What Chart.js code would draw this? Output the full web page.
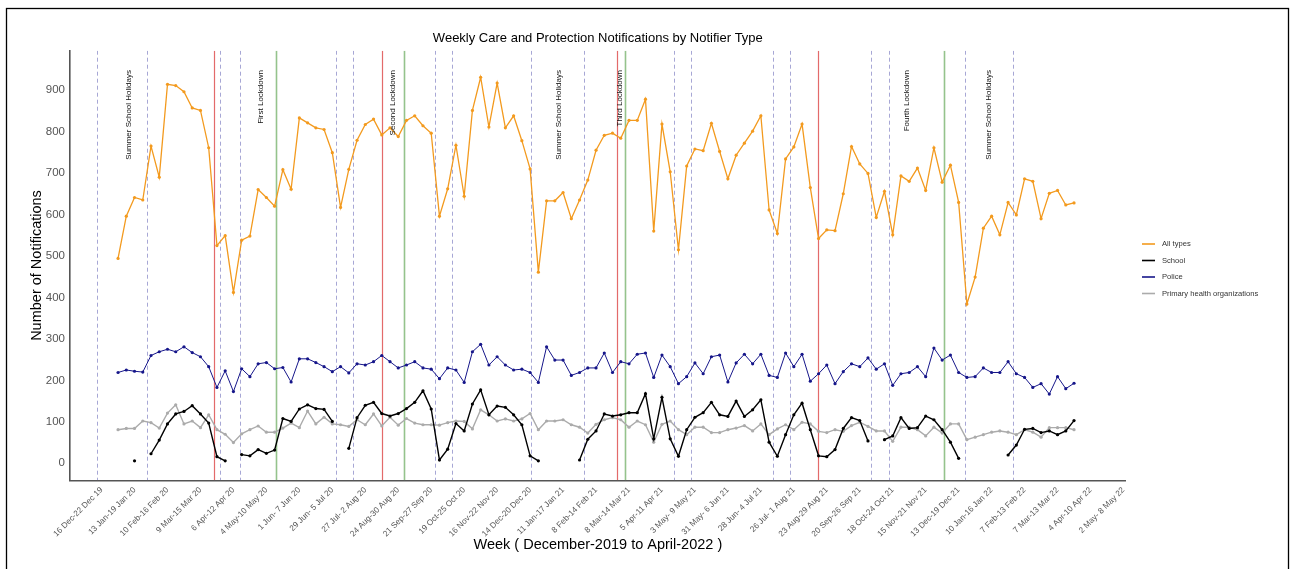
<!DOCTYPE html>
<html>
<head>
<meta charset="utf-8">
<script src="https://cdn.jsdelivr.net/npm/chart.js@4.4.1/dist/chart.umd.min.js"></script>
<style>
  html, body { margin: 0; padding: 0; background: #ffffff; }
  #wrap { width: 1295px; height: 569px; position: relative; }
</style>
</head>
<body>
<div id="wrap"><canvas id="chart" width="1295" height="569"></canvas></div>
<script>
// Weeks are counted from Monday 16 Dec 2019 (week 0); the series start at week 2.
const firstWeek = 2;

const tickLabels = [
  "16 Dec-22 Dec 19", "13 Jan-19 Jan 20", "10 Feb-16 Feb 20", "9 Mar-15 Mar 20",
  "6 Apr-12 Apr 20", "4 May-10 May 20", "1 Jun- 7 Jun 20", "29 Jun- 5 Jul 20",
  "27 Jul- 2 Aug 20", "24 Aug-30 Aug 20", "21 Sep-27 Sep 20", "19 Oct-25 Oct 20",
  "16 Nov-22 Nov 20", "14 Dec-20 Dec 20", "11 Jan-17 Jan 21", "8 Feb-14 Feb 21",
  "8 Mar-14 Mar 21", "5 Apr-11 Apr 21", "3 May- 9 May 21", "31 May- 6 Jun 21",
  "28 Jun- 4 Jul 21", "26 Jul- 1 Aug 21", "23 Aug-29 Aug 21", "20 Sep-26 Sep 21",
  "18 Oct-24 Oct 21", "15 Nov-21 Nov 21", "13 Dec-19 Dec 21", "10 Jan-16 Jan 22",
  "7 Feb-13 Feb 22", "7 Mar-13 Mar 22", "4 Apr-10 Apr 22", "2 May- 8 May 22"
];
const tickStepWeeks = 4;
const yTicks = [0, 100, 200, 300, 400, 500, 600, 700, 800, 900];

const allTypes = [
  494, 596, 641, 635, 765, 690, 914, 911, 896, 857, 851, 761, 525, 549, 412, 538,
  548, 660, 641, 620, 708, 661, 833, 821, 809, 805, 749, 617, 709, 779, 817, 830,
  792, 809, 788, 827, 838, 814, 796, 596, 662, 767, 644, 851, 931, 811, 917, 809,
  838, 778, 710, 461, 633, 633, 653, 590, 635, 683, 755, 791, 796, 784, 827, 827,
  878, 560, 818, 703, 515, 717, 758, 754, 820, 752, 686, 743, 772, 801, 838, 611,
  554, 734, 763, 818, 665, 542, 563, 561, 650, 764, 722, 699, 593, 656, 551, 693,
  680, 712, 658, 761, 678, 719, 629, 384, 449, 567, 596, 551, 629, 599, 686, 680,
  590, 651, 658, 623, 628
];

const school = [
  null, null, 6, null, 23, 56, 95, 119, 125, 139, 119, 97, 16, 6, null, 21,
  18, 33, 24, 32, 108, 101, 131, 141, 132, 130, 101, null, 36, 110, 140, 147,
  120, 114, 120, 132, 147, 175, 131, 8, 34, 96, 78, 143, 177, 117, 138, 135,
  117, 93, 18, 6, null, null, null, null, 8, 58, 78, 119, 114, 117, 122, 122,
  168, 59, 159, 59, 17, 81, 111, 122, 147, 117, 113, 150, 113, 129, 153, 51,
  17, 69, 117, 145, 81, 18, 16, 33, 84, 110, 103, 54, null, 57, 66, 110,
  84, 86, 114, 105, 81, 51, 12, null, null, null, null, null, 20, 44, 82, 84,
  74, 78, 69, 78, 103
];

const police = [
  219, 225, 222, 220, 260, 269, 275, 269, 281, 267, 257, 233, 183, 223, 173, 228,
  209, 240, 243, 228, 231, 196, 252, 252, 243, 233, 221, 233, 218, 240, 237, 245,
  260, 245, 230, 237, 245, 230, 227, 204, 230, 225, 195, 269, 287, 237, 257, 237,
  225, 227, 219, 195, 281, 249, 249, 212, 219, 230, 230, 266, 219, 245, 240, 263,
  266, 207, 261, 233, 192, 209, 242, 216, 257, 261, 196, 242, 263, 240, 263, 212,
  207, 266, 233, 263, 198, 216, 237, 192, 221, 240, 233, 254, 227, 240, 188, 216,
  219, 233, 209, 278, 249, 261, 219, 207, 209, 230, 219, 219, 245, 216, 207, 183,
  192, 167, 209, 180, 193
];

const primaryHealth = [
  81, 84, 84, 102, 98, 85, 121, 141, 95, 102, 86, 117, 81, 70, 50, 71,
  81, 90, 75, 75, 85, 97, 86, 126, 95, 111, 95, 93, 89, 105, 93, 119,
  90, 111, 92, 108, 97, 93, 93, 92, 98, 102, 101, 83, 129, 117, 102, 107,
  102, 107, 120, 81, 102, 102, 105, 93, 87, 73, 94, 105, 110, 105, 87, 102,
  93, 51, 94, 102, 81, 69, 87, 87, 74, 74, 81, 85, 91, 78, 95, 69,
  83, 93, 81, 99, 95, 77, 74, 81, 77, 91, 99, 89, 78, 78, 53, 87,
  87, 81, 66, 87, 73, 95, 95, 57, 63, 69, 75, 78, 75, 69, 81, 75,
  63, 86, 86, 86, 81
];

// School term / holiday boundaries (in weeks)
const termBreaks = [-0.61, 5.53, 14.39, 16.82, 28.40, 30.53, 40.41, 42.51, 52.10,
  58.53, 69.42, 71.48, 81.43, 83.57, 93.40, 95.55, 104.81, 110.56];
// Lockdown starts and ends (in weeks)
const lockdownStarts = [13.67, 33.98, 62.54, 86.97];
const lockdownEnds = [21.12, 36.65, 63.54, 102.26];
// Period labels and where they sit (in weeks)
const periodLabels = ["Summer School Holidays", "First Lockdown", "Second Lockdown",
  "Summer School Holidays", "Third Lockdown", "Fourth Lockdown", "Summer School Holidays"];
const periodWeeks = [3.33, 19.37, 35.32, 55.53, 62.9, 97.7, 107.7];

const seriesNames = ["All types", "School", "Police", "Primary health organizations"];
const seriesColors = ["#F39A1E", "#000000", "#16168a", "#ababab"];

const FONT = "'Liberation Sans', Arial, Helvetica, sans-serif";

function toPoints(values) {
  return values.map((v, i) => ({ x: firstWeek + i, y: v }));
}

const seriesValues = [allTypes, school, police, primaryHealth];
const lineWidths = [1.3, 1.4, 1.0, 1.4];

const datasets = seriesValues.map((vals, k) => ({
  label: seriesNames[k],
  data: toPoints(vals),
  borderColor: seriesColors[k],
  backgroundColor: seriesColors[k],
  borderWidth: lineWidths[k],
  pointRadius: 1.6,
  pointBorderWidth: 0,
  pointHoverRadius: 1.6,
  spanGaps: false,
  tension: 0
}));

const decorations = {
  id: 'decorations',
  beforeDatasetsDraw(chart) {
    const { ctx, chartArea: a, scales: { x } } = chart;
    ctx.save();
    ctx.beginPath();
    ctx.rect(a.left, a.top, a.right - a.left, a.bottom - a.top);
    ctx.clip();
    const vline = (w, color, width, dash) => {
      const px = Math.round(x.getPixelForValue(w)) + 0.5;
      ctx.strokeStyle = color;
      ctx.lineWidth = width;
      ctx.setLineDash(dash);
      ctx.beginPath();
      ctx.moveTo(px, a.top);
      ctx.lineTo(px, a.bottom);
      ctx.stroke();
    };
    termBreaks.forEach(w => vline(w, 'rgba(120,120,190,0.65)', 1, [4, 3]));
    lockdownStarts.forEach(w => vline(w, 'rgba(222,80,80,0.85)', 1.2, []));
    lockdownEnds.forEach(w => vline(w, 'rgba(130,185,120,0.85)', 1.6, []));
    ctx.restore();
  },
  afterDatasetsDraw(chart) {
    const { ctx, scales: { x } } = chart;
    ctx.save();
    ctx.fillStyle = '#111111';
    ctx.font = `8px ${FONT}`;
    ctx.textAlign = 'right';
    ctx.textBaseline = 'middle';
    periodLabels.forEach((t, i) => {
      const px = x.getPixelForValue(periodWeeks[i]);
      ctx.save();
      ctx.translate(px, 70);
      ctx.rotate(-Math.PI / 2);
      ctx.fillText(t, 0, 0);
      ctx.restore();
    });
    ctx.restore();
  },
  afterDraw(chart) {
    const { ctx, chartArea: a } = chart;
    ctx.save();
    // outer frame
    ctx.strokeStyle = '#000000';
    ctx.lineWidth = 1.3;
    ctx.strokeRect(6.5, 8.5, 1282, 620);

    const cx = (a.left + a.right) / 2;
    // title
    ctx.fillStyle = '#000000';
    ctx.textAlign = 'center';
    ctx.textBaseline = 'middle';
    ctx.font = `13px ${FONT}`;
    ctx.fillText('Weekly Care and Protection Notifications by Notifier Type', cx, 38);
    // axis titles
    ctx.font = `14.5px ${FONT}`;
    ctx.fillText('Week ( December-2019 to April-2022 )', cx, 545);
    ctx.save();
    ctx.translate(37, (a.top + a.bottom) / 2);
    ctx.rotate(-Math.PI / 2);
    ctx.fillText('Number of Notifications', 0, 0);
    ctx.restore();

    // legend
    const rowY = [244, 260.5, 277, 293.5];
    ctx.textAlign = 'left';
    ctx.font = `7.6px ${FONT}`;
    seriesNames.forEach((name, i) => {
      ctx.strokeStyle = seriesColors[i];
      ctx.lineWidth = 1.6;
      ctx.beginPath();
      ctx.moveTo(1142, rowY[i]);
      ctx.lineTo(1155, rowY[i]);
      ctx.stroke();
      ctx.fillStyle = '#333333';
      ctx.fillText(name, 1162, rowY[i]);
    });
    ctx.restore();
  }
};

const chart = new Chart(document.getElementById('chart'), {
  type: 'line',
  data: { datasets },
  options: {
    responsive: false,
    animation: false,
    events: [],
    layout: { padding: { left: 0, top: 50.7, right: 169.3, bottom: 0 } },
    plugins: {
      legend: { display: false },
      title: { display: false },
      tooltip: { enabled: false }
    },
    scales: {
      x: {
        type: 'linear',
        min: -3.83,
        max: 124.27,
        grid: { display: false, drawTicks: false },
        border: { display: true, color: '#555555', width: 1.6 },
        afterBuildTicks(scale) {
          scale.ticks = tickLabels.map((_, i) => ({ value: i * tickStepWeeks }));
        },
        afterFit(scale) { scale.height = 88.7; },
        ticks: {
          autoSkip: false,
          minRotation: 45,
          maxRotation: 45,
          padding: 5,
          color: '#555555',
          font: { family: FONT, size: 8.2 },
          callback: (value) => tickLabels[Math.round(value / tickStepWeeks)]
        }
      },
      y: {
        type: 'linear',
        min: -41,
        max: 995,
        grid: { display: false, drawTicks: false },
        border: { display: true, color: '#555555', width: 1.6 },
        afterBuildTicks(scale) {
          scale.ticks = yTicks.map(v => ({ value: v }));
        },
        afterFit(scale) { scale.width = 70; },
        ticks: {
          padding: 5,
          color: '#555555',
          font: { family: FONT, size: 11.5 },
          callback: (value) => String(value)
        }
      }
    }
  },
  plugins: [decorations]
});
</script>
</body>
</html>
